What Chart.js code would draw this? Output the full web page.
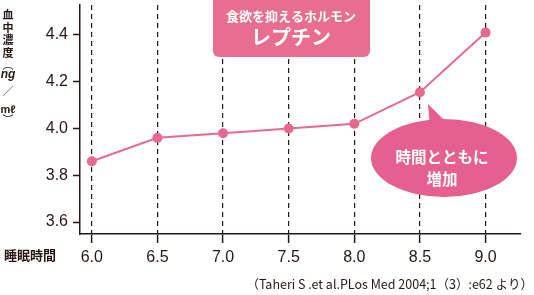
<!DOCTYPE html>
<html lang="ja">
<head>
<meta charset="UTF-8">
<title>レプチン</title>
<script src="https://cdn.jsdelivr.net/npm/chart.js@4/dist/chart.umd.min.js"></script>
<style>
  body{ margin:0; background:#fff; }
  #wrap{ width:534px; height:295px; }
</style>
</head>
<body>
<div id="wrap"><canvas id="myChart" width="534" height="295"></canvas></div>
<script>
// data
var sleepHours = [6.0, 6.5, 7.0, 7.5, 8.0, 8.5, 9.0];
var leptin = [3.86, 3.96, 3.98, 4.0, 4.02, 4.155, 4.41];
var xTicks = [6.0, 6.5, 7.0, 7.5, 8.0, 8.5, 9.0];
var yTicks = [3.6, 3.8, 4.0, 4.2, 4.4];

var ink = "#231815";
var pink = "#E8698F";
var jp = "'Noto Sans CJK JP', sans-serif";

function roundBox(ctx, x, y, w, h, r){
    ctx.beginPath();
    ctx.moveTo(x + r, y);
    ctx.lineTo(x + w - r, y);
    ctx.arcTo(x + w, y, x + w, y + r, r);
    ctx.lineTo(x + w, y + h - r);
    ctx.arcTo(x + w, y + h, x + w - r, y + h, r);
    ctx.lineTo(x + r, y + h);
    ctx.arcTo(x, y + h, x, y + h - r, r);
    ctx.lineTo(x, y + r);
    ctx.arcTo(x, y, x + r, y, r);
    ctx.closePath();
}

var extras = {
    id: "extras",
    afterDraw: function(chart){
        var ctx = chart.ctx;
        ctx.save();

        // title box
        ctx.fillStyle = "#E86E90";
        roundBox(ctx, 213, -6, 157, 63, 6);
        ctx.fill();
        ctx.fillStyle = "#fff";
        ctx.textAlign = "center";
        ctx.textBaseline = "middle";
        ctx.font = "bold 13px " + jp;
        ctx.fillText("食欲を抑えるホルモン", 291, 16);
        ctx.font = "bold 20px " + jp;
        ctx.fillText("レプチン", 291, 37);

        // speech bubble
        ctx.fillStyle = "#E5608F";
        ctx.beginPath();
        ctx.ellipse(444, 158, 73, 39, 0, 0, Math.PI * 2);
        ctx.fill();
        ctx.beginPath();
        ctx.moveTo(428, 104);
        ctx.lineTo(448, 124);
        ctx.lineTo(430, 128);
        ctx.closePath();
        ctx.fill();
        ctx.fillStyle = "#fff";
        ctx.font = "bold 15.5px " + jp;
        ctx.fillText("時間とともに", 442, 157);
        ctx.fillText("増加", 442, 179);

        // axis titles
        ctx.fillStyle = ink;
        ctx.font = "bold 13px " + jp;
        ctx.textAlign = "left";
        ctx.fillText("睡眠時間", 4, 255);
        var vChars = ["血", "中", "濃", "度"];
        ctx.textAlign = "center";
        ctx.font = "bold 11px " + jp;
        for (var i = 0; i < vChars.length; i++) {
            ctx.fillText(vChars[i], 8, 15 + i * 12.5);
        }
        ctx.font = "11px " + jp;
        ctx.fillText("︵", 8, 65);
        ctx.font = "italic bold 12px 'Liberation Sans'";
        ctx.fillText("ng", 8, 75);
        ctx.font = "11px " + jp;
        ctx.fillText("／", 8, 91);
        ctx.font = "bold 11px 'Liberation Sans'";
        ctx.fillText("mℓ", 8, 110);
        ctx.font = "11px " + jp;
        ctx.fillText("︶", 8, 120);

        // source
        ctx.font = "12.5px " + jp;
        ctx.textAlign = "right";
        ctx.fillText("（Taheri S .et al.PLos Med 2004;1（3）:e62 より）", 533, 284);
        ctx.restore();
    }
};

new Chart("myChart", {
    type: "line",
    data: {
        datasets: [{
            data: sleepHours.map(function(h, i){ return {x: h, y: leptin[i]}; }),
            borderColor: pink,
            backgroundColor: pink,
            borderWidth: 2,
            pointRadius: 5,
            pointBorderWidth: 0,
            tension: 0
        }]
    },
    options: {
        responsive: false,
        animation: false,
        devicePixelRatio: 1,
        layout: {padding: {top: 5, right: 13, left: 0, bottom: 0}},
        plugins: {legend: {display: false}, tooltip: {enabled: false}},
        scales: {
            x: {
                type: "linear",
                min: 5.91,
                max: 9.27,
                afterBuildTicks: function(s){ s.ticks = xTicks.map(function(v){ return {value: v}; }); },
                afterFit: function(s){ s.height = 61; s.paddingLeft = 0; s.paddingRight = 0; },
                ticks: {
                    color: ink,
                    padding: 5,
                    font: {family: "'Liberation Sans'", size: 16},
                    callback: function(v){ return v.toFixed(1); }
                },
                grid: {
                    color: ink,
                    lineWidth: 1.2,
                    tickLength: 9,
                    tickColor: ink,
                    tickWidth: 1.5,
                    tickBorderDash: []
                },
                border: {display: true, color: ink, width: 1.5, dash: [5, 4]}
            },
            y: {
                min: 3.549,
                max: 4.528,
                afterBuildTicks: function(s){ s.ticks = yTicks.map(function(v){ return {value: v}; }); },
                afterFit: function(s){ s.width = 80; s.paddingTop = 0; s.paddingBottom = 0; },
                ticks: {
                    color: ink,
                    padding: 5,
                    font: {family: "'Liberation Sans'", size: 16},
                    callback: function(v){ return v.toFixed(1); }
                },
                grid: {
                    drawOnChartArea: false,
                    tickLength: 7,
                    tickColor: ink,
                    tickWidth: 1.5
                },
                border: {display: true, color: ink, width: 1.5}
            }
        }
    },
    plugins: [extras]
});
</script>
</body>
</html>
